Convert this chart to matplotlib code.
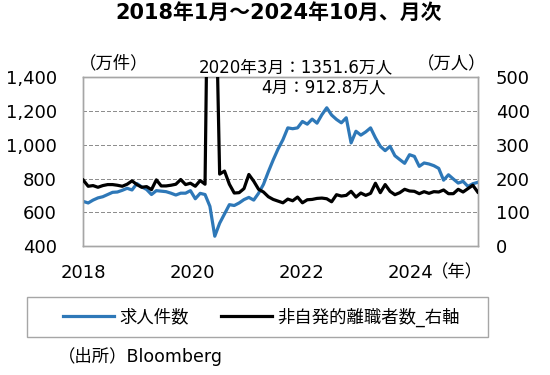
import matplotlib
matplotlib.use("Agg")
import matplotlib.pyplot as plt
from matplotlib.patches import Rectangle

plt.rcParams['font.family'] = ['DejaVu Sans', 'Noto Sans CJK JP']

# Monthly data, Jan 2018 - Oct 2024
job_openings = [  # 求人件数 (万件), left axis
    664, 655, 672, 685, 692, 705, 718, 720, 730, 742, 732, 770,
    750, 735, 705, 728, 725, 722, 713, 702, 713, 713, 728, 680,
    712, 705, 635, 458, 535, 590, 645, 640, 655, 675, 688, 672,
    713, 765, 840, 910, 975, 1030, 1100, 1095, 1100, 1138, 1122, 1152,
    1128, 1178, 1219, 1176, 1150, 1130, 1160, 1011, 1080, 1057, 1076, 1100,
    1041, 991, 965, 991, 935, 912, 890, 941, 931, 872, 892, 886,
    876, 860, 790, 822, 797, 773, 783, 753, 769, 777,
]
job_losers = [  # 非自発的離職者数 (万人), right axis
    195, 177, 179, 174, 179, 182, 182, 180, 177, 183, 193, 182,
    174, 176, 167, 196, 178, 178, 180, 183, 197, 182, 186, 177,
    194, 183, 1351.6, 912.8, 213, 222, 183, 157, 158, 170, 212, 192,
    168, 160, 146, 138, 133, 128, 139, 134, 145, 128, 137, 138,
    141, 142, 140, 131, 152, 148, 150, 162, 145, 157, 150, 156,
    186, 158, 182, 162, 152, 158, 168, 163, 162, 155, 161, 156,
    161, 160, 166, 155, 155, 168, 160, 170, 180, 160,
]
year_tick_pos = [0, 22.4, 44.8, 67.2]
year_tick_labels = ["2018", "2020", "2022", "2024"]
left_ticks = [400, 600, 800, 1000, 1200, 1400]
left_tick_labels = ["400", "600", "800", "1,000", "1,200", "1,400"]
right_ticks = [0, 100, 200, 300, 400, 500]

x = list(range(len(job_openings)))

fig = plt.figure(figsize=(5.5, 3.75), dpi=100)
ax = fig.add_axes([0.1515, 0.344, 0.717, 0.45])
ax2 = ax.twinx()

blue = "#2E78B8"
grey = "#A6A6A6"

ax.set_xlim(0, len(x) - 1)
ax.set_ylim(400, 1400)
ax2.set_ylim(0, 500)

for t in left_ticks[1:-1]:
    ax.plot([0, len(x) - 1], [t, t], color="#8E8E8E", lw=1.0,
            dashes=[2.4, 1.7], zorder=2, antialiased=False)

l1, = ax.plot(x, job_openings, color=blue, lw=2.3, solid_joinstyle='round', zorder=3)
l2, = ax2.plot(x, job_losers, color="black", lw=2.3, solid_joinstyle='round', zorder=4)

ax.set_yticks(left_ticks)
ax.set_yticklabels(left_tick_labels)
ax2.set_yticks(right_ticks)
ax.set_xticks(year_tick_pos)
ax.set_xticklabels(year_tick_labels)

ax.tick_params(axis='y', length=0, pad=19, labelsize=13)
ax.tick_params(axis='x', length=0, pad=13, labelsize=13)
ax2.tick_params(axis='y', length=0, pad=13, labelsize=13)
for a in (ax, ax2):
    for s in a.spines.values():
        s.set_color(grey)
        s.set_linewidth(1.0)

ax.text(67.2 + 4.2, -0.155, "（年）", transform=ax.get_xaxis_transform(),
        fontsize=12.5, ha='left', va='center', family=['Noto Sans CJK JP'])

fig.text(279 / 550, 1 - 12.5 / 375, "2018年1月～2024年10月、月次", ha='center', va='center',
         fontsize=15, fontweight='bold')
fig.text(113.5 / 550, 1 - 63 / 375, "（万件）", ha='center', va='center', fontsize=12.5)
fig.text(452 / 550, 1 - 64 / 375, "（万人）", ha='center', va='center', fontsize=12.5)
fig.text(296 / 550, 1 - 67 / 375, "2020年3月：1351.6万人", ha='center', va='center', fontsize=12)
fig.text(323 / 550, 1 - 87.5 / 375, "4月：912.8万人", ha='center', va='center', fontsize=12)

# legend box
fig.patches.append(Rectangle((27 / 550, 1 - 337 / 375), (488 - 27) / 550, (337 - 296.7) / 375,
                             transform=fig.transFigure, fill=False, edgecolor=grey, lw=1.0))
fig.legend([l1, l2], ["求人件数", "非自発的離職者数_右軸"], loc='center',
           bbox_to_anchor=(261.5 / 550, 1 - 317 / 375), ncol=2, frameon=False,
           fontsize=12.5, handlelength=2.9, handletextpad=0.3, columnspacing=1.9)

fig.text(58 / 550, 1 - 357 / 375, "（出所）Bloomberg", ha='left', va='center', fontsize=12.5)

fig.savefig("out.png", dpi=100)
